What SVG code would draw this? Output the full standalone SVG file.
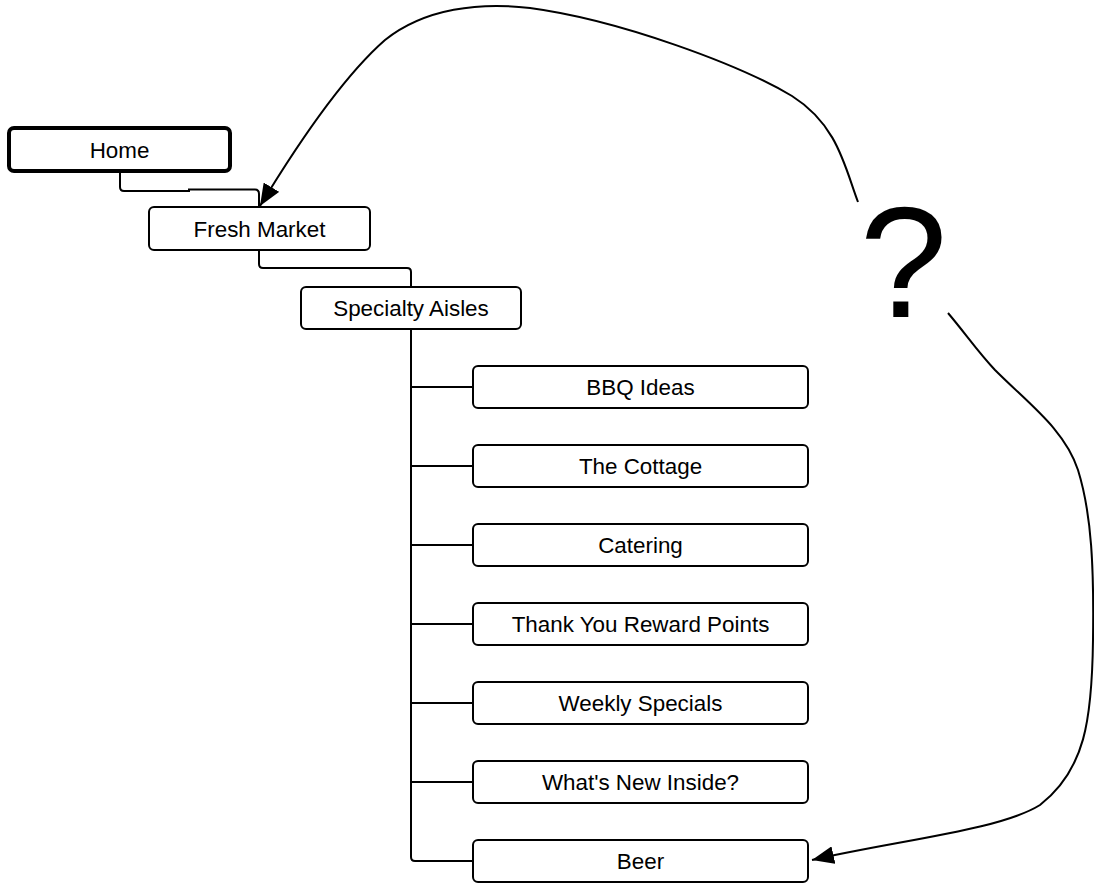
<svg xmlns="http://www.w3.org/2000/svg" width="1094" height="886" viewBox="0 0 1094 886">
<style>
.box{fill:#fff;stroke:#000;stroke-width:2}
.home{fill:#fff;stroke:#000;stroke-width:4}
.lbl{font-family:"Liberation Sans",Arial,Helvetica,sans-serif;font-size:22.4px;fill:#000;text-anchor:middle}
.q{font-family:"Liberation Sans",Arial,Helvetica,sans-serif;font-size:158px;fill:#000;text-anchor:middle}
.ln{fill:none;stroke:#000;stroke-width:2}
.cv{fill:none;stroke:#000;stroke-width:2}
</style>
<defs>
<marker id="arr" markerUnits="userSpaceOnUse" markerWidth="24" markerHeight="18" refX="22" refY="9" orient="auto">
<path d="M0,0 L22,9 L0,18 Z" fill="#000"/>
</marker>
</defs>
<rect width="1094" height="886" fill="#fff"/>
<g id="connectors">
<path class="ln" d="M120,172 V187 Q120,191 124,191 H189 V189.5 H255 Q259,189.5 259,194 V207"/>
<path class="ln" d="M259,250 V264 Q259,268 263,268 H407 Q411,268 411,272 V287"/>
<path class="ln" d="M411,329 V857 Q411,861 415,861 H473"/>
<path class="ln" d="M411,387 H473 M411,466 H473 M411,545 H473 M411,624 H473 M411,703 H473 M411,782 H473"/>
<path class="cv" marker-end="url(#arr)" d="M858,202 C845,168 838,125 792,96 C740,65 620,20 530,8 C480,2 425,8 385,40 C345,75 300,140 260,206"/>
<path class="cv" marker-end="url(#arr)" d="M948,313 C965,333 978,352 995,370 C1030,405 1065,430 1078,470 C1092,515 1094,570 1093,640 C1092,720 1085,770 1040,805 C1000,830 900,840 812,860"/>
</g>
<g id="home"><rect class="home" x="9" y="128" width="221" height="43" rx="5"/><text class="lbl" x="119.5" y="157.5">Home</text></g>
<g id="fresh-market"><rect class="box" x="149" y="207" width="221" height="43" rx="5"/><text class="lbl" x="259.5" y="236.5">Fresh Market</text></g>
<g id="specialty-aisles"><rect class="box" x="301" y="287" width="220" height="42" rx="5"/><text class="lbl" x="411" y="316">Specialty Aisles</text></g>
<g id="bbq"><rect class="box" x="473" y="366" width="335" height="42" rx="5"/><text class="lbl" x="640.5" y="395">BBQ Ideas</text></g>
<g id="cottage"><rect class="box" x="473" y="445" width="335" height="42" rx="5"/><text class="lbl" x="640.5" y="474">The Cottage</text></g>
<g id="catering"><rect class="box" x="473" y="524" width="335" height="42" rx="5"/><text class="lbl" x="640.5" y="553">Catering</text></g>
<g id="thank-you"><rect class="box" x="473" y="603" width="335" height="42" rx="5"/><text class="lbl" x="640.5" y="632">Thank You Reward Points</text></g>
<g id="weekly"><rect class="box" x="473" y="682" width="335" height="42" rx="5"/><text class="lbl" x="640.5" y="711">Weekly Specials</text></g>
<g id="whats-new"><rect class="box" x="473" y="761" width="335" height="42" rx="5"/><text class="lbl" x="640.5" y="790">What's New Inside?</text></g>
<g id="beer"><rect class="box" x="473" y="840" width="335" height="42" rx="5"/><text class="lbl" x="640.5" y="869">Beer</text></g>
<text class="q" x="903.5" y="317">?</text>
</svg>
